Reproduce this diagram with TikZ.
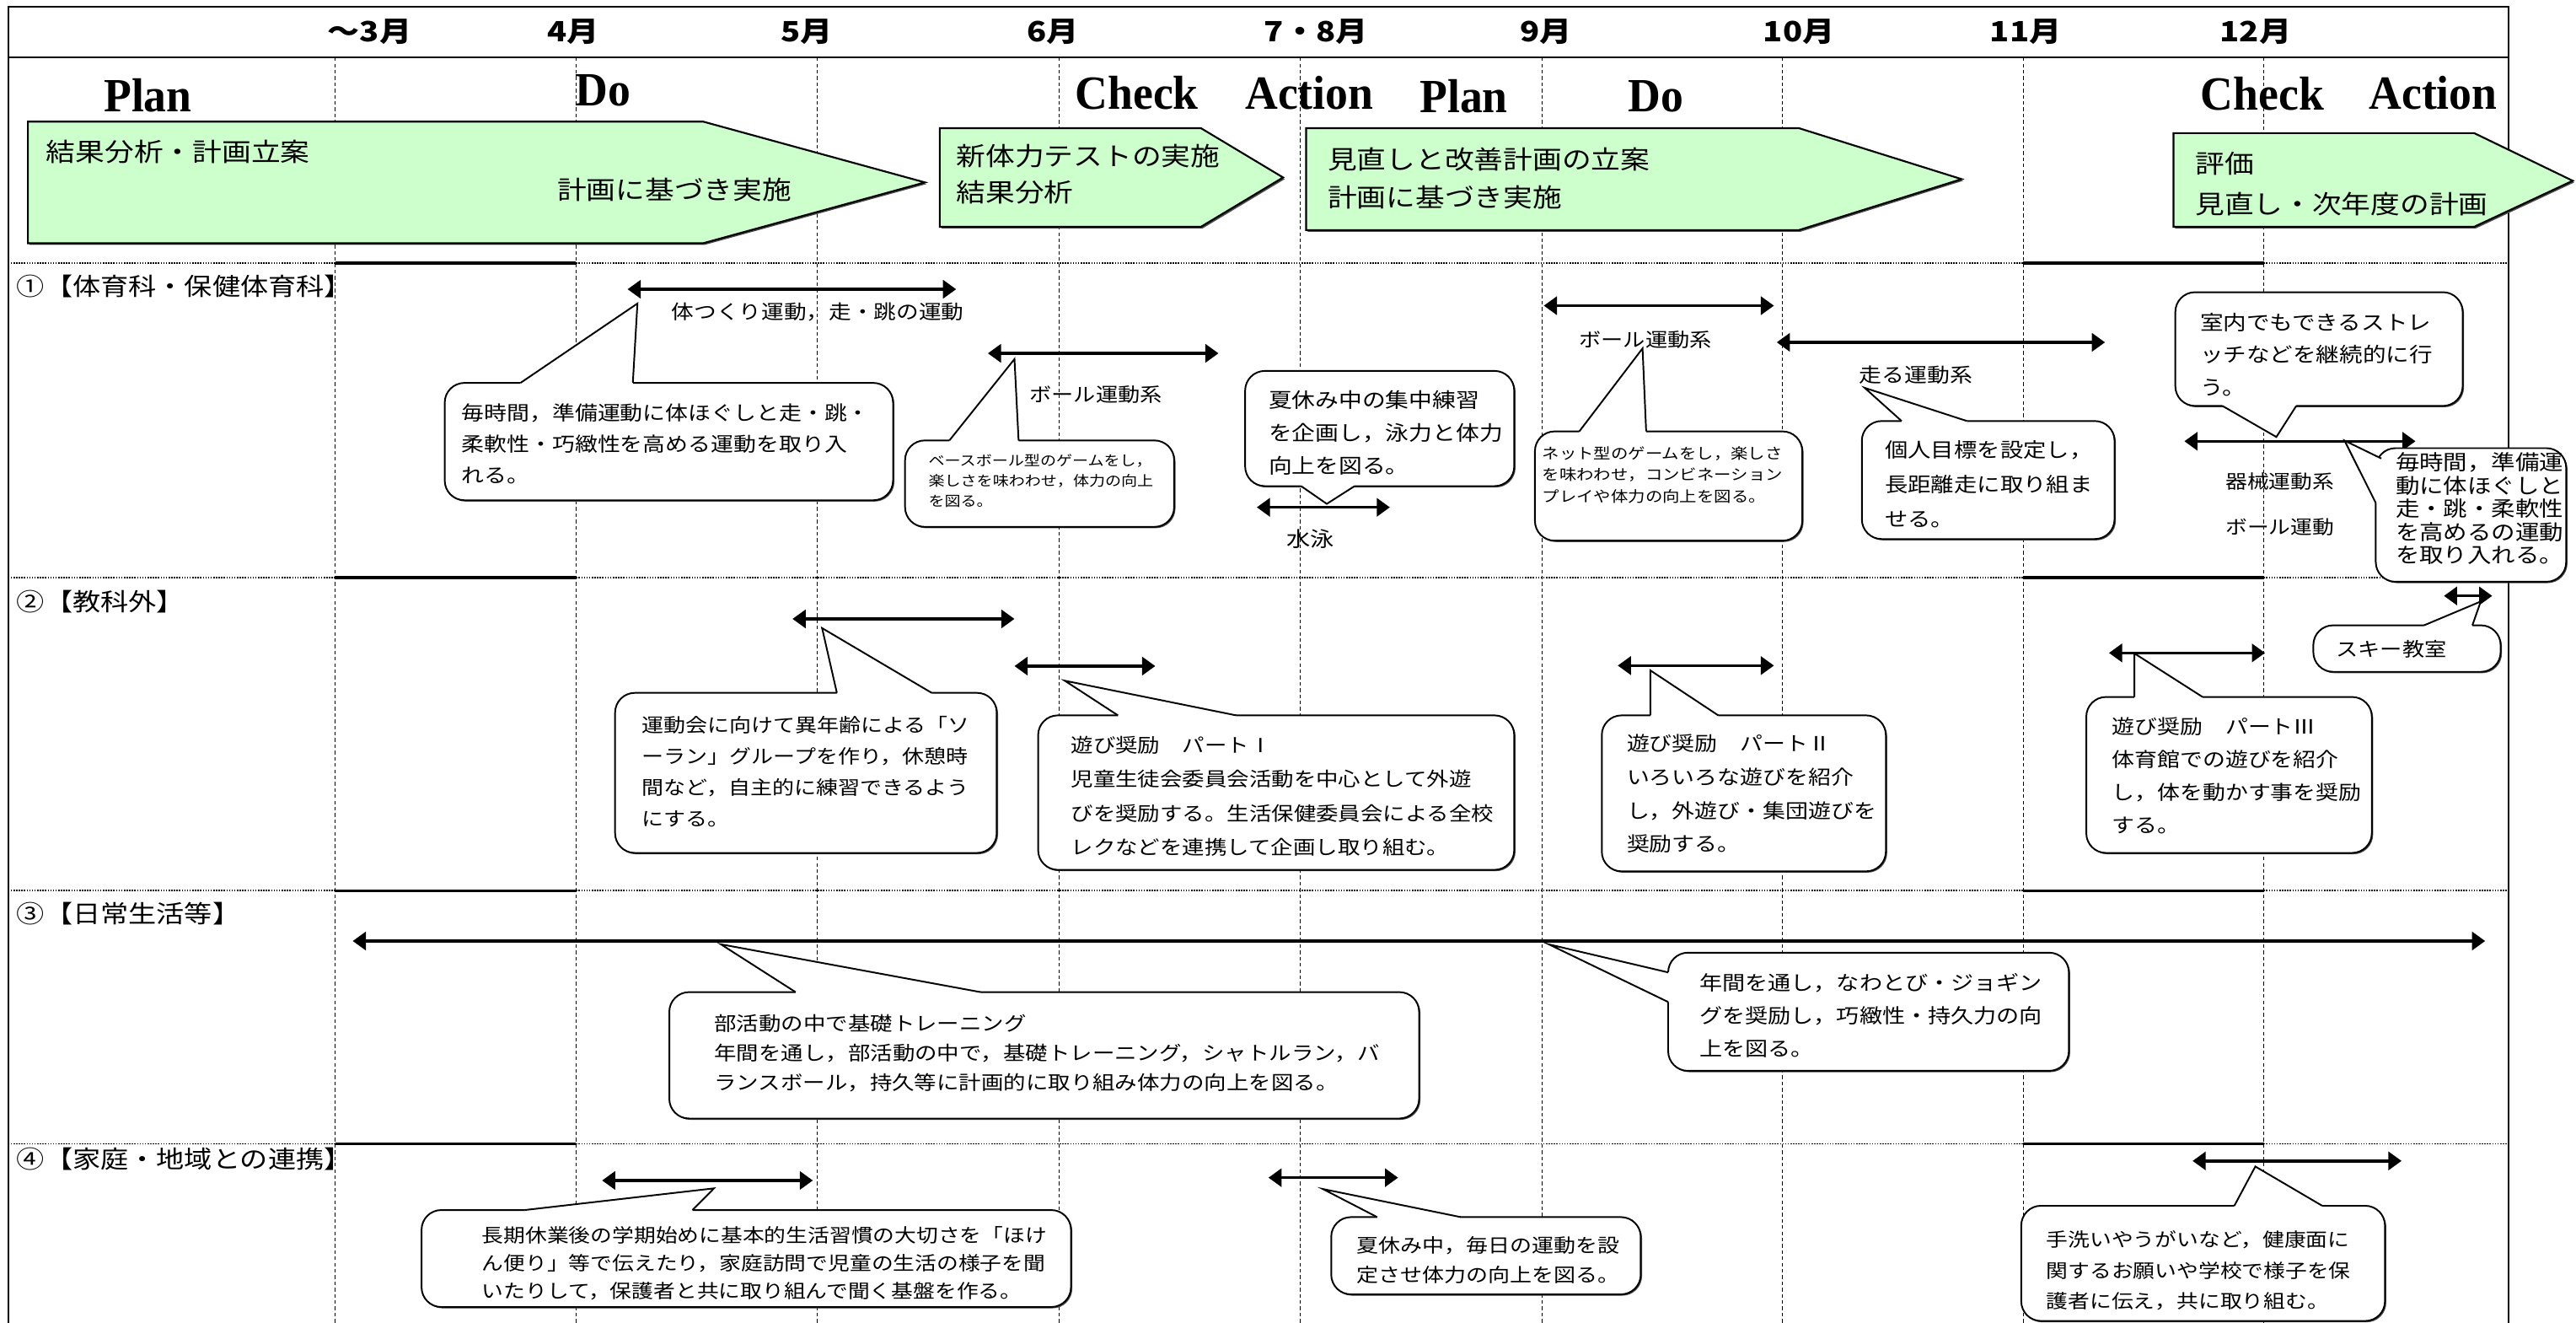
\documentclass[tikz,border=0pt]{standalone}
\usepackage{fontspec}
\setmainfont{Liberation Serif}
\newfontfamily\pdcafont[FakeStretch=0.95]{Liberation Serif}
\newfontfamily\jp[FakeStretch=1.15]{Noto Sans CJK JP}
\usetikzlibrary{calc,arrows.meta,fit,shadows}
\definecolor{phasegreen}{HTML}{CCFFCC}
\tikzset{
  frame/.style={draw=black, line width=1.2pt},
  gridline/.style={draw=black, line width=0.4pt, dash pattern=on 2.2pt off 1.6pt},
  sepdot/.style={draw=black, line width=1pt, dash pattern=on 0.8pt off 0.8pt},
  sepsolid/.style={draw=black, line width=1.8pt},
  month/.style={font=\jp\bfseries\fontsize{17}{17}\selectfont, inner sep=0pt},
  pdca/.style={font=\pdcafont\bfseries\fontsize{29}{29}\selectfont, inner sep=0pt},
  rowlbl/.style={font=\jp\fontsize{14.8}{14.8}\selectfont, anchor=west, inner sep=0pt},
  phase/.style={draw=black, fill=phasegreen, line width=1.1pt,
    drop shadow={shadow xshift=1pt, shadow yshift=-1pt, fill=black!70, opacity=1}},
  phasetxt/.style={font=\jp\fontsize{15.5}{15.5}\selectfont, anchor=west, inner sep=0pt},
  period/.style={draw=black, line width=1.8pt,
    {Triangle[length=8pt,width=11pt]}-{Triangle[length=8pt,width=11pt]}},
  periodtxt/.style={font=\jp\fontsize{#1}{#1}\selectfont, anchor=west, inner sep=0pt},
  bubble/.style={draw=black, fill=white, line width=1pt, rounded corners=12pt, inner sep=0pt,
    drop shadow={shadow xshift=0.8pt, shadow yshift=-0.8pt, fill=black!70, opacity=1}},
  tailedge/.style={draw=black, line width=1pt},
  btext/.style 2 args={font=\jp\fontsize{#1}{#2}\selectfont, anchor=west, align=left, inner sep=0pt}
}
% tail of a speech bubble: tip, two base points, shift into the box
\newcommand{\calltail}[4]{%
  \fill[white] (#1) -- (#2) -- ($(#2)+(#4)$) -- ($(#3)+(#4)$) -- (#3) -- cycle;
  \draw[tailedge] (#2) -- (#1) -- (#3);
}

\begin{document}
\begin{tikzpicture}[x=1pt, y=-1pt]
  \fill[white] (0,0) rectangle (1568,805);
  \useasboundingbox (0,0) rectangle (1568,805);

  % month columns
  \foreach \x in {204,350.5,497.5,644.5,791.5,938.5,1085,1231.5,1378}
    \draw[gridline] (\x,35) -- (\x,805);

  % row separators
  \foreach \y in {160,351.5,542,696} {
    \draw[sepdot] (5,\y) -- (1527,\y);
    \draw[sepsolid] (204,\y) -- (350.5,\y);
    \draw[sepsolid] (1231.5,\y) -- (1378,\y);
  }

  % outer frame
  \draw[frame] (5,805) -- (5,4) -- (1527,4) -- (1527,805);
  \draw[frame] (5,35) -- (1527,35);

  % months
  \node[month] (m3) at (225,19.5) {～3月};
  \node[month] (m4) at (349,19.5) {4月};
  \node[month] (m5) at (491,19.5) {5月};
  \node[month] (m6) at (641,19.5) {6月};
  \node[month] (m78) at (801,19.5) {7・8月};
  \node[month] (m9) at (941,19.5) {9月};
  \node[month] (m10) at (1095,19.5) {10月};
  \node[month] (m11) at (1233,19.5) {11月};
  \node[month] (m12) at (1373,19.5) {12月};

  % PDCA
  \node[pdca] (plan1) at (90,58) {Plan};
  \node[pdca] (do1) at (367,55) {Do};
  \node[pdca] (check1) at (692,56.5) {Check};
  \node[pdca] (action1) at (797,56.5) {Action};
  \node[pdca] (plan2) at (891,58.5) {Plan};
  \node[pdca] (do2) at (1008,58.5) {Do};
  \node[pdca] (check2) at (1377,57) {Check};
  \node[pdca] (action2) at (1481,56.5) {Action};

  % phases
  \draw[phase] (17,74) -- (428,74) -- (563,111) -- (428,148) -- (17,148) -- cycle;
  \node[phasetxt] (ph1a) at (28,92.5) {結果分析・計画立案};
  \node[phasetxt] (ph1b) at (339,115.5) {計画に基づき実施};
  \draw[phase] (572,78) -- (731,78) -- (781,108) -- (731,138) -- (572,138) -- cycle;
  \node[phasetxt] (ph2a) at (582,95) {新体力テストの実施};
  \node[phasetxt] (ph2b) at (582,117) {結果分析};
  \draw[phase] (795,78) -- (1095,78) -- (1194,109) -- (1095,140) -- (795,140) -- cycle;
  \node[phasetxt] (ph3a) at (808,97) {見直しと改善計画の立案};
  \node[phasetxt] (ph3b) at (808,120) {計画に基づき実施};
  \draw[phase] (1323,81) -- (1506,81) -- (1566,110) -- (1506,138) -- (1323,138) -- cycle;
  \node[phasetxt] (ph4a) at (1336,99.5) {評価};
  \node[phasetxt] (ph4b) at (1336,124) {見直し・次年度の計画};

  % row labels
  \node[rowlbl] (row1) at (10,174) {①【体育科・保健体育科】};
  \node[rowlbl] (row2) at (10,366) {②【教科外】};
  \node[rowlbl] (row3) at (10,556) {③【日常生活等】};
  \node[rowlbl] (row4) at (10,705) {④【家庭・地域との連携】};

  % row 1
  \draw[period] (382,176) -- (582,176);
  \node[periodtxt=11.9] (k11) at (408.6,190) {体つくり運動，走・跳の運動};
  \node[bubble, fit={(270.7,233) (543.6,304.4)}] (b11) {};
  \calltail{388,184.7}{316.8,233}{385.2,233}{0,2}
  \node[btext={12}{19}] (b11t) at (280.8,270.2) {毎時間，準備運動に体ほぐしと走・跳・\\柔軟性・巧緻性を高める運動を取り入\\れる。};

  \draw[period] (601.3,215) -- (741.7,215);
  \node[periodtxt=11.7] (k12) at (626.5,240) {ボール運動系};
  \node[bubble, fit={(550.9,268) (714.7,320.6)}] (b12) {};
  \calltail{617.5,218.5}{577.9,268}{620,268}{0,2}
  \node[btext={8.5}{12.2}] (b12t) at (565,292.7) {ベースボール型のゲームをし，\\楽しさを味わわせ，体力の向上\\を図る。};

  \node[bubble, fit={(757.9,225.7) (921.7,295.8)}] (b13) {};
  \calltail{807.6,306.6}{792,295.8}{824.5,295.8}{0,-2}
  \node[btext={12.4}{20}] (b13t) at (772,263.3) {夏休み中の集中練習\\を企画し，泳力と体力\\向上を図る。};
  \draw[period] (765,308.7) -- (846,308.7);
  \node[periodtxt=12.6] (k13) at (783,328) {水泳};

  \draw[period] (939.7,186) -- (1079.8,186);
  \node[periodtxt=11.7] (k14) at (961,207) {ボール運動系};
  \node[bubble, fit={(934.3,262.5) (1097,329)}] (b14) {};
  \calltail{999.8,212}{961.3,262.5}{1002,262.5}{0,2}
  \node[btext={9.1}{12.9}] (b14t) at (938.6,289) {ネット型のゲームをし，楽しさ\\を味わわせ，コンビネーション\\プレイや体力の向上を図る。};

  \draw[period] (1081.5,208.3) -- (1281.3,208.3);
  \node[periodtxt=12] (k15) at (1131.6,228) {走る運動系};
  \node[bubble, fit={(1133.3,256.2) (1287.1,328)}] (b15) {};
  \calltail{1135,236}{1157.5,256.2}{1197.3,256.2}{0,2}
  \node[btext={12.2}{21}] (b15t) at (1147.2,294.7) {個人目標を設定し，\\長距離走に取り組ま\\せる。};

  \node[bubble, fit={(1324.1,177.8) (1499,247)}] (b16) {};
  \calltail{1385.6,265.9}{1352.8,247}{1397.7,247}{0,-2}
  \node[btext={12.3}{19.7}] (b16t) at (1339,215.7) {室内でもできるストレ\\ッチなどを継続的に行\\う。};

  \draw[period] (1329.6,268.5) -- (1470.3,268.5);
  \node[periodtxt=11.5] (k17) at (1354.5,293) {器械運動系};
  \node[periodtxt=11.5] (k18) at (1354.5,321) {ボール運動};
  \node[bubble, fit={(1446.1,272.7) (1562,354)}] (b17) {};
  \calltail{1427.1,268.1}{1449.5,279}{1446.1,306}{2.5,0}
  \node[btext={12.7}{14.1}] (b17t) at (1458,309.5) {毎時間，準備運\\動に体ほぐしと\\走・跳・柔軟性\\を高めるの運動\\を取り入れる。};

  % row 2
  \draw[period] (482.4,376.6) -- (617.5,376.6);
  \node[bubble, fit={(374.4,421.6) (606.7,519)}] (b21) {};
  \calltail{500.4,382.2}{509.4,421.6}{567.1,421.6}{0,2}
  \node[btext={11.6}{19}] (b21t) at (390.6,469.5) {運動会に向けて異年齢による「ソ\\ーラン」グループを作り，休憩時\\間など，自主的に練習できるよう\\にする。};

  \draw[period] (617.5,405.3) -- (703.2,405.3);
  \node[bubble, fit={(631.9,435.3) (921.7,529.3)}] (b22) {};
  \calltail{648.1,414.2}{680.5,435.3}{752.5,435.3}{0,2}
  \node[btext={11.8}{20.8}] (b22t) at (651.7,484.4) {遊び奨励　パートⅠ\\児童生徒会委員会活動を中心として外遊\\びを奨励する。生活保健委員会による全校\\レクなどを連携して企画し取り組む。};

  \draw[period] (984.7,405) -- (1079.8,405);
  \node[bubble, fit={(975,435.3) (1147.9,530.2)}] (b23) {};
  \calltail{1004.5,407.9}{1004.5,435.3}{1045.9,435.3}{0,2}
  \node[btext={12}{20.3}] (b23t) at (990.1,483) {遊び奨励　パートⅡ\\いろいろな遊びを紹介\\し，外遊び・集団遊びを\\奨励する。};

  \draw[period] (1283.7,397.3) -- (1378.7,397.3);
  \node[bubble, fit={(1269.9,424.1) (1443.7,519)}] (b24) {};
  \calltail{1299.2,397.6}{1299.2,424.1}{1340.7,424.1}{0,2}
  \node[btext={12}{20}] (b24t) at (1285.4,472) {遊び奨励　パートⅢ\\体育館での遊びを紹介\\し，体を動かす事を奨励\\する。};

  \draw[period] (1487.6,362.6) -- (1517,362.6);
  \node[bubble, fit={(1408.1,380.5) (1522.1,408.8)}] (b25) {};
  \calltail{1510,366}{1475.5,380.5}{1504.9,380.5}{0,2}
  \node[periodtxt=11.7] (b25t) at (1421.8,395) {スキー教室};

  % row 3
  \draw[period] (214.7,572.6) -- (1512.7,572.6);
  \node[bubble, fit={(407.4,603.7) (863.8,680.6)}] (b31) {};
  \calltail{438.8,574.6}{484.3,603.7}{596.9,603.7}{0,2}
  \node[btext={11.8}{18}] (b31t) at (434.6,640.7) {部活動の中で基礎トレーニング\\年間を通し，部活動の中で，基礎トレーニング，シャトルラン，バ\\ランスボール，持久等に計画的に取り組み体力の向上を図る。};

  \node[bubble, fit={(1015.4,579.7) (1259.3,651.6)}] (b32) {};
  \calltail{942.7,574.6}{1015.4,591.7}{1015.4,609.7}{2,0}
  \node[btext={12.1}{20}] (b32t) at (1034.3,617.9) {年間を通し，なわとび・ジョギン\\グを奨励し，巧緻性・持久力の向\\上を図る。};

  % row 4
  \draw[period] (366.5,718.3) -- (494.8,718.3);
  \node[bubble, fit={(256.6,736.3) (651.9,795.3)}] (b41) {};
  \calltail{434.6,723.1}{319.4,736.3}{421.5,736.3}{0,2}
  \node[btext={11.5}{17.1}] (b41t) at (293.2,768.8) {長期休業後の学期始めに基本的生活習慣の大切さを「ほけ\\ん便り」等で伝えたり，家庭訪問で児童の生活の様子を聞\\いたりして，保護者と共に取り組んで聞く基盤を作る。};

  \draw[period] (772.1,716.6) -- (851,716.6);
  \node[bubble, fit={(810.3,740.6) (998.7,787.6)}] (b42) {};
  \calltail{805.2,723.5}{838.3,740.6}{889.2,740.6}{0,2}
  \node[btext={11.6}{17.9}] (b42t) at (825.6,766.7) {夏休み中，毎日の運動を設\\定させ体力の向上を図る。};

  \draw[period] (1334.6,706.4) -- (1461.8,706.4);
  \node[bubble, fit={(1230.3,733.7) (1451.7,803.8)}] (b43) {};
  \calltail{1372.8,709.8}{1360,733.7}{1413.5,733.7}{0,2}
  \node[btext={11.5}{18.8}] (b43t) at (1245.5,773.1) {手洗いやうがいなど，健康面に\\関するお願いや学校で様子を保\\護者に伝え，共に取り組む。};
\end{tikzpicture}
\end{document}
